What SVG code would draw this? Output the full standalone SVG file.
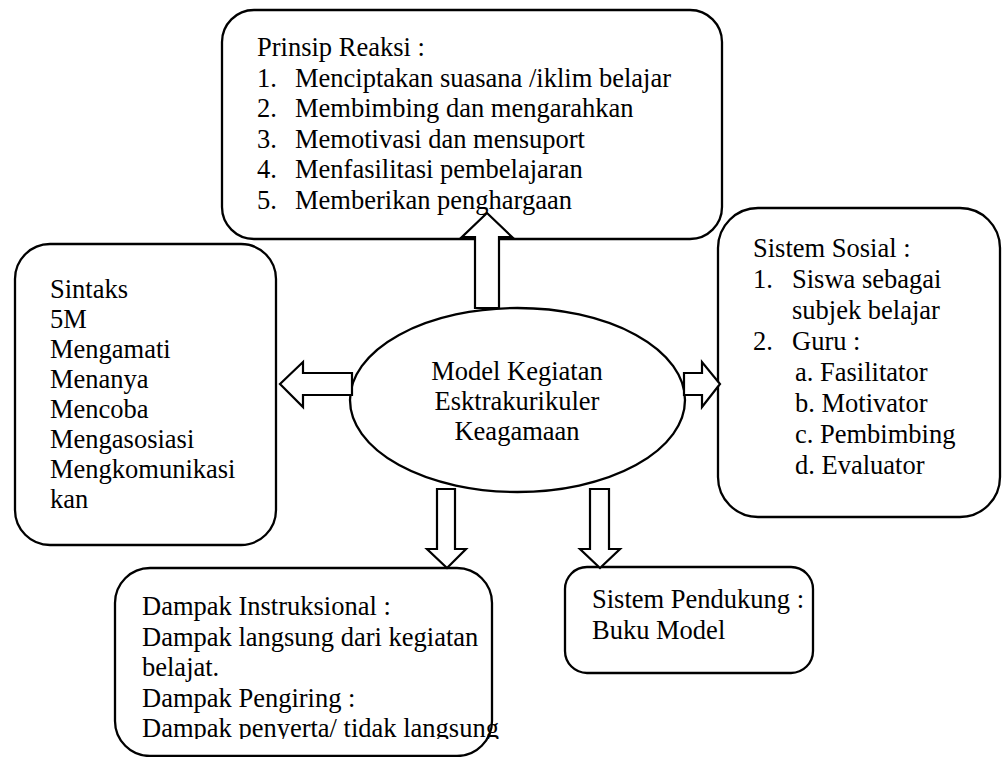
<svg xmlns="http://www.w3.org/2000/svg" width="1002" height="757" viewBox="0 0 1002 757">
<style>
.box{fill:#fff;stroke:#000;stroke-width:2.3}
.arr{fill:#fff;stroke:#000;stroke-width:2.2;stroke-linejoin:miter}
text{font-family:'Liberation Serif','Times New Roman',serif;font-size:26.5px;fill:#000}
</style>
<defs>
<clipPath id="clipD"><rect x="0" y="0" width="1002" height="739"/></clipPath>
</defs>
<rect x="0" y="0" width="1002" height="757" fill="#fff"/>
<g id="prinsip">
<rect class="box" x="222" y="10" width="500" height="229" rx="32"/>
<text x="257" y="56">Prinsip Reaksi :</text>
<text x="257" y="86.5">1.</text><text x="295" y="86.5">Menciptakan suasana /iklim belajar</text>
<text x="257" y="117">2.</text><text x="295" y="117">Membimbing dan mengarahkan</text>
<text x="257" y="147.5">3.</text><text x="295" y="147.5">Memotivasi dan mensuport</text>
<text x="257" y="178">4.</text><text x="295" y="178">Menfasilitasi pembelajaran</text>
<text x="257" y="208.5">5.</text><text x="295" y="208.5">Memberikan penghargaan</text>
</g>
<g id="sintaks">
<rect class="box" x="15" y="244" width="261" height="301" rx="35"/>
<text x="50" y="298">Sintaks</text>
<text x="50" y="328">5M</text>
<text x="50" y="358">Mengamati</text>
<text x="50" y="388">Menanya</text>
<text x="50" y="418">Mencoba</text>
<text x="50" y="448">Mengasosiasi</text>
<text x="50" y="478">Mengkomunikasi</text>
<text x="50" y="508">kan</text>
</g>
<g id="sosial">
<rect class="box" x="718" y="208" width="282" height="309" rx="40"/>
<text x="753" y="257">Sistem Sosial :</text>
<text x="753" y="288">1.</text><text x="792" y="288">Siswa sebagai</text>
<text x="792" y="319">subjek belajar</text>
<text x="753" y="350">2.</text><text x="792" y="350">Guru :</text>
<text x="795" y="381">a. Fasilitator</text>
<text x="795" y="412">b. Motivator</text>
<text x="795" y="443">c. Pembimbing</text>
<text x="795" y="474">d. Evaluator</text>
</g>
<g id="dampak">
<rect class="box" x="115" y="568" width="377" height="188" rx="35"/>
<g clip-path="url(#clipD)">
<text x="142" y="615">Dampak Instruksional :</text>
<text x="142" y="645.5">Dampak langsung dari kegiatan</text>
<text x="142" y="676">belajat.</text>
<text x="142" y="706.5">Dampak Pengiring :</text>
<text x="142" y="737">Dampak penyerta/ tidak langsung</text>
</g>
</g>
<g id="pendukung">
<rect class="box" x="565" y="567" width="248" height="106" rx="22"/>
<text x="592" y="608">Sistem Pendukung :</text>
<text x="592" y="639">Buku Model</text>
</g>
<g id="model">
<ellipse class="box" cx="517.5" cy="400" rx="167.5" ry="92"/>
<text x="517" y="380" text-anchor="middle">Model Kegiatan</text>
<text x="517" y="410" text-anchor="middle">Esktrakurikuler</text>
<text x="517" y="440" text-anchor="middle">Keagamaan</text>
</g>
<g id="connectors">
<polygon class="arr" points="475,308 475,237 462,237 487,213 512,237 499,237 499,308"/>
<polygon class="arr" points="352,373 303,373 303,362 280,384 303,407 303,395 352,395"/>
<polygon class="arr" points="684,373 702,373 702,362 720,384 702,407 702,395 684,395"/>
<polygon class="arr" points="437,489 455,489 455,549 466,549 447,568 427,549 437,549"/>
<polygon class="arr" points="590,489 609,489 609,549 620,549 600,568 580,549 590,549"/>
</g>
</svg>
